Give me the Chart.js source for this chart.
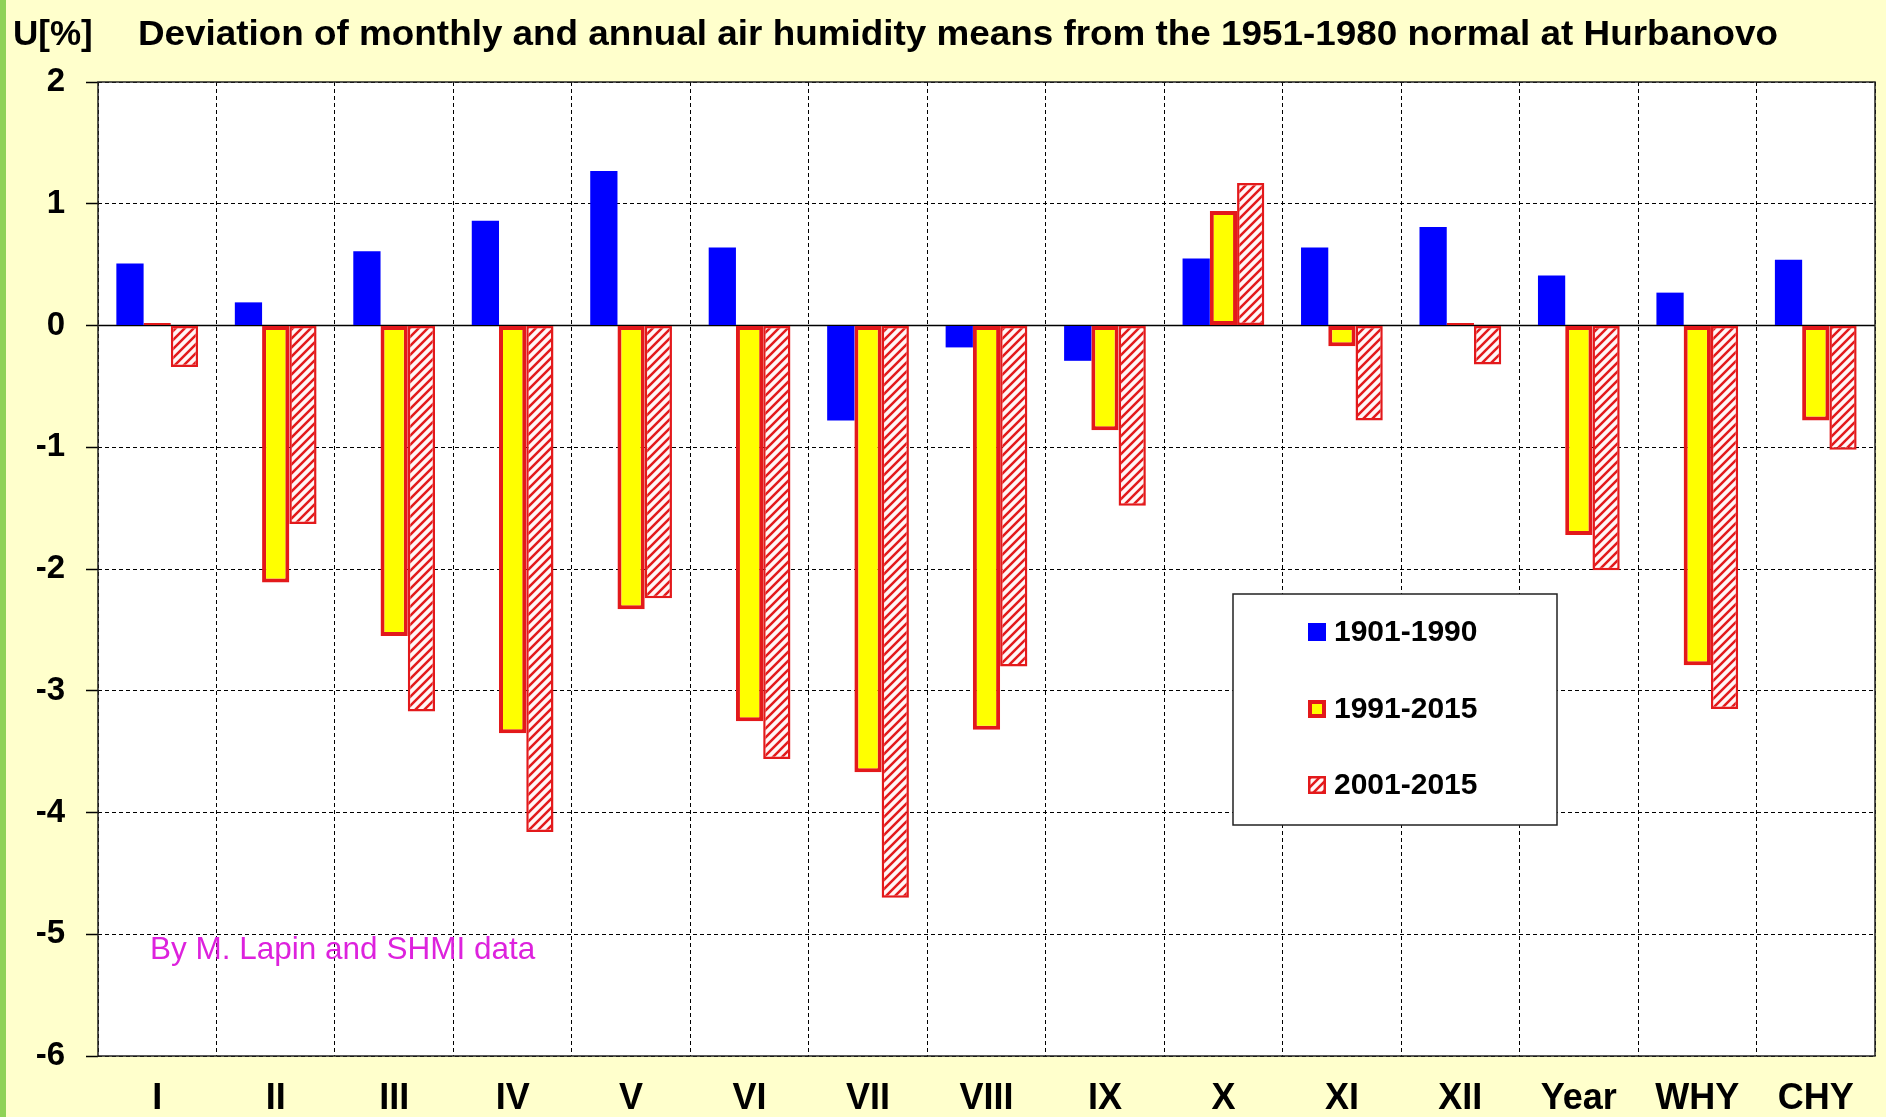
<!DOCTYPE html>
<html><head><meta charset="utf-8">
<script src="https://cdn.jsdelivr.net/npm/chart.js@4/dist/chart.umd.min.js"></script>
<style>html,body{margin:0;padding:0;background:#ffffcc;overflow:hidden}canvas{display:block}</style>
</head><body>
<canvas id="c" width="1886" height="1117"></canvas>
<script>
// ---- data ----
const categories = ['I','II','III','IV','V','VI','VII','VIII','IX','X','XI','XII','Year','WHY','CHY'];
const seriesLabels = ['1901-1990','1991-2015','2001-2015'];
const dev1901_1990 = [0.51, 0.19, 0.61, 0.86, 1.27, 0.64, -0.78, -0.18, -0.29, 0.55, 0.64, 0.81, 0.41, 0.27, 0.54];
const dev1991_2015 = [0.02, -2.11, -2.55, -3.35, -2.33, -3.25, -3.67, -3.32, -0.86, 0.94, -0.17, 0.02, -1.72, -2.79, -0.78];
const dev2001_2015 = [-0.34, -1.63, -3.17, -4.16, -2.24, -3.56, -4.70, -2.80, -1.48, 1.17, -0.78, -0.32, -2.01, -3.15, -1.02];
const yMin = -6, yMax = 2, yStep = 1;
const titleText = 'Deviation of monthly and annual air humidity means from the 1951-1980 normal at Hurbanovo';
const unitText = 'U[%]';
const creditText = 'By M. Lapin and SHMI data';

const FONT = "'Liberation Sans', Arial, Helvetica, sans-serif";
const canvas = document.getElementById('c');
const mainCtx = canvas.getContext('2d');

function makeHatch(){
  const s = 9;
  const c = document.createElement('canvas');
  c.width = s; c.height = s;
  const g = c.getContext('2d');
  g.fillStyle = '#fff6f6'; g.fillRect(0,0,s,s);
  g.strokeStyle = '#e3191b'; g.lineWidth = 2.5;
  g.beginPath();
  g.moveTo(-2, s+2); g.lineTo(s+2, -2);
  g.moveTo(-2, 2); g.lineTo(2, -2);
  g.moveTo(s-2, s+2); g.lineTo(s+2, s-2);
  g.stroke();
  return mainCtx.createPattern(c, 'repeat');
}
const hatch = makeHatch();
const RED = '#e3191b';

const bgPlugin = {
  id: 'bg',
  beforeDraw(chart){
    const {ctx, chartArea: a} = chart;
    ctx.save();
    ctx.fillStyle = '#ffffcc';
    ctx.fillRect(0,0,chart.width,chart.height);
    ctx.fillStyle = '#8fd257';
    ctx.fillRect(0,0,6,chart.height);
    ctx.fillStyle = '#ffffff';
    ctx.fillRect(a.left, a.top, a.right-a.left, a.bottom-a.top);
    ctx.restore();
  },
  beforeDatasetsDraw(chart){
    const {ctx, chartArea: a} = chart;
    const y0 = chart.scales.y.getPixelForValue(0);
    ctx.save();
    ctx.strokeStyle = '#000'; ctx.lineWidth = 1.6;
    ctx.beginPath(); ctx.moveTo(a.left, y0); ctx.lineTo(a.right, y0); ctx.stroke();
    ctx.restore();
  },
  afterDraw(chart){
    const {ctx, chartArea: a} = chart;
    ctx.save();
    // plot border
    ctx.strokeStyle = '#222'; ctx.lineWidth = 1.5;
    ctx.strokeRect(a.left, a.top, a.right-a.left, a.bottom-a.top);
    // title
    ctx.fillStyle = '#000';
    ctx.textBaseline = 'alphabetic';
    ctx.font = 'bold 35px ' + FONT;
    ctx.textAlign = 'left';
    ctx.fillText(unitText, 13, 45);
    const w = ctx.measureText(titleText).width;
    const target = 1640;
    ctx.save();
    ctx.translate(138, 45);
    ctx.scale(target / w, 1);
    ctx.fillText(titleText, 0, 0);
    ctx.restore();
    // credit
    ctx.font = '31.5px ' + FONT;
    ctx.fillStyle = '#dd22dd';
    ctx.fillText(creditText, a.left + 52, chart.scales.y.getPixelForValue(-5.2));
    // legend
    const lx = 1233, ly = 594, lw = 324, lh = 231;
    ctx.fillStyle = '#fff';
    ctx.fillRect(lx, ly, lw, lh);
    ctx.strokeStyle = '#222'; ctx.lineWidth = 1.5;
    ctx.strokeRect(lx, ly, lw, lh);
    const rows = [632, 709, 785];
    ctx.font = 'bold 30px ' + FONT;
    ctx.textBaseline = 'middle';
    chart.data.datasets.forEach((ds, i) => {
      const cy = rows[i];
      const sx = 1308, sz = 18;
      ctx.fillStyle = ds.borderWidth ? ds.borderColor : ds.backgroundColor;
      ctx.fillRect(sx, cy - sz/2, sz, sz);
      if (ds.borderWidth) {
        const bw = i === 1 ? 4 : 2.5;
        ctx.fillStyle = ds.backgroundColor;
        ctx.fillRect(sx + bw, cy - sz/2 + bw, sz - 2*bw, sz - 2*bw);
      }
      ctx.fillStyle = '#000';
      ctx.fillText(ds.label, 1334, cy + 1);
    });
    ctx.restore();
  }
};

new Chart(canvas, {
  type: 'bar',
  data: {
    labels: categories,
    datasets: [
      { label: seriesLabels[0], data: dev1901_1990, backgroundColor: '#0000ff', borderWidth: 0 },
      { label: seriesLabels[1], data: dev1991_2015, backgroundColor: '#ffff00', borderColor: RED, borderWidth: 4, borderSkipped: false },
      { label: seriesLabels[2], data: dev2001_2015, backgroundColor: hatch, borderColor: RED, borderWidth: 2.5, borderSkipped: false }
    ]
  },
  options: {
    responsive: false,
    animation: false,
    events: [],
    layout: { padding: { top: 82, right: 11, left: 0, bottom: 0 } },
    datasets: { bar: { categoryPercentage: 0.69, barPercentage: 1.0 } },
    plugins: { legend: { display: false }, tooltip: { enabled: false }, title: { display: false } },
    scales: {
      x: {
        offset: true,
        grid: { display: true, offset: true, drawTicks: false, color: '#000', lineWidth: 1 },
        border: { display: false, dash: [4, 3] },
        ticks: { color: '#000', font: { family: FONT, size: 36, weight: 'bold' }, padding: 21, maxRotation: 0, autoSkip: false },
        afterFit(s){ s.height = 61; }
      },
      y: {
        min: yMin, max: yMax,
        grid: { color: '#000', lineWidth: 1, drawTicks: true, tickLength: 12, tickColor: '#000', tickBorderDash: [], tickWidth: 1.5 },
        border: { display: false, dash: [4, 3] },
        ticks: { stepSize: yStep, color: '#000', font: { family: FONT, size: 33, weight: 'bold' }, padding: 21 },
        afterFit(s){ s.width = 98; }
      }
    }
  },
  plugins: [bgPlugin]
});
</script>
</body></html>
